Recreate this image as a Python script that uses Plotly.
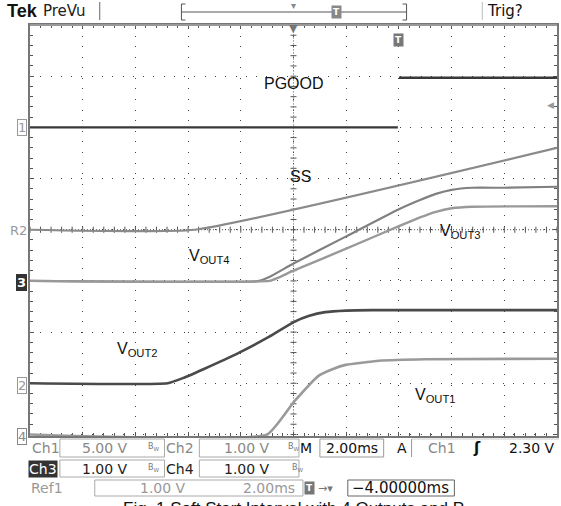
import plotly.graph_objects as go

# ---------------- data (screen divisions: time 0..10 div @ 2 ms/div, amplitude -4..4 div)
pgood_t = [0, 6.98, 6.99, 7.0, 10]
pgood_v = [2.0, 2.0, None, 2.97, 2.97]

ss_t = [0, 3.12, 10]
ss_v = [0.0, 0.0, 1.6]

vout4_t = [0, 4.35, 4.55, 5.0, 6.0, 7.0, 7.4, 7.7, 8.0, 8.4, 9.0, 10]
vout4_v = [-1.0, -1.0, -0.92, -0.66, -0.13, 0.40, 0.58, 0.70, 0.78, 0.82, 0.82, 0.84]

vout3_t = [0, 4.54, 4.7, 5.0, 6.0, 7.0, 7.4, 7.7, 8.0, 8.4, 10]
vout3_v = [-1.0, -1.0, -0.94, -0.80, -0.37, 0.07, 0.24, 0.35, 0.42, 0.45, 0.46]

vout2_t = [0, 2.61, 2.9, 3.3, 3.97, 4.54, 5.01, 5.3, 5.6, 6.0, 6.5, 10]
vout2_v = [-3.0, -3.0, -2.9, -2.72, -2.40, -2.09, -1.80, -1.68, -1.61, -1.58, -1.57, -1.57]

vout1_t = [0, 4.5, 5.01, 5.48, 5.75, 5.99, 6.62, 7.5, 10]
vout1_v = [-4.0, -4.0, -3.36, -2.85, -2.72, -2.64, -2.56, -2.53, -2.52]

labels = ["PGOOD", "SS", "V<sub>OUT4</sub>", "V<sub>OUT3</sub>", "V<sub>OUT2</sub>", "V<sub>OUT1</sub>"]
label_t = [5.01, 5.14, 3.40, 8.17, 2.04, 7.69]
label_v = [2.85, 1.04, -0.52, -0.03, -2.34, -3.23]

# ---------------- geometry helpers (pixel -> paper)
W, H = 561, 506
L, R, T, B = 30, 559, 25, 436


def px(X):
    return (X - L) / (R - L)


def py(Y):
    return (B - Y) / (B - T)


fig = go.Figure()

traces = [
    (pgood_t, pgood_v, "#383838", 2.4),
    (ss_t, ss_v, "#8a8a8a", 2.2),
    (vout4_t, vout4_v, "#808080", 2.2),
    (vout3_t, vout3_v, "#999999", 2.4),
    (vout2_t, vout2_v, "#4a4a4a", 2.6),
    (vout1_t, vout1_v, "#9a9a9a", 2.6),
]
for t, v, c, w in traces:
    fig.add_trace(go.Scatter(x=t, y=v, mode="lines", line=dict(color=c, width=w, shape="spline", smoothing=0.4),
                             connectgaps=False, showlegend=False, hoverinfo="skip"))

shapes = []
# center cross lines
shapes.append(dict(type="line", xref="x", yref="y", x0=0, x1=10, y0=0, y1=0, layer="below",
                   line=dict(color="#555", width=1, dash="1px,2px")))
shapes.append(dict(type="line", xref="x", yref="y", x0=5, x1=5, y0=-4, y1=4, layer="below",
                   line=dict(color="#555", width=1, dash="1px,2px")))
for i in range(51):
    xx = i * 0.2
    shapes.append(dict(type="line", xref="x", yref="y", x0=xx, x1=xx, y0=-0.06, y1=0.06,
                       layer="below", line=dict(color="#555", width=1)))
for j in range(41):
    yy = -4 + j * 0.2
    shapes.append(dict(type="line", xref="x", yref="y", x0=4.943, x1=5.057, y0=yy, y1=yy,
                       layer="below", line=dict(color="#555", width=1)))


def pline(X0, Y0, X1, Y1, color="#888", width=1):
    shapes.append(dict(type="line", xref="paper", yref="paper", x0=px(X0), x1=px(X1),
                       y0=py(Y0), y1=py(Y1), line=dict(color=color, width=width)))


def prect(X0, Y0, X1, Y1, color="#aaa", fill=None, width=1):
    shapes.append(dict(type="rect", xref="paper", yref="paper", x0=px(X0), x1=px(X1),
                       y0=py(Y0), y1=py(Y1), line=dict(color=color, width=width),
                       fillcolor=fill if fill else "rgba(0,0,0,0)"))


# top bar
pline(100, 2, 100, 20, "#666")
pline(182, 12, 408, 12, "#555")
pline(182, 4, 182, 20, "#555")
pline(182, 4, 186, 4, "#555")
pline(182, 20, 186, 20, "#555")
pline(408, 4, 408, 20, "#555")
pline(404, 4, 408, 4, "#555")
pline(404, 20, 408, 20, "#555")
pline(484, 2, 484, 20, "#bbb")
# top ruler line
pline(30, 25, 559, 25, "#999", 2)

# status boxes
prect(60, 439, 165, 457)
prect(200, 439, 300, 457)
prect(321, 439, 385, 457, "#999")
pline(413, 439, 413, 457, "#999")
pline(413, 439, 561, 439, "#ccc")
prect(60, 460, 165, 477)
prect(200, 460, 300, 477)
prect(95, 480, 304, 496)
prect(349, 480, 456, 496, "#666")

annotations = []
for s, t, v in zip(labels, label_t, label_v):
    annotations.append(dict(text=s, x=t, y=v, xref="x", yref="y", showarrow=False,
                            font=dict(family="Liberation Sans, Arial", size=16, color="#111")))


def ptext(X, Y, s, size=14, color="#888", anchor="left", family="DejaVu Sans", bg=None,
          border=None, bold=False, pad=0):
    d = dict(text=("<b>%s</b>" % s) if bold else s, x=px(X), y=py(Y), xref="paper", yref="paper",
             showarrow=False, xanchor=anchor, yanchor="middle",
             font=dict(family=family, size=size, color=color), borderpad=pad)
    if bg:
        d["bgcolor"] = bg
    if border:
        d["bordercolor"] = border
        d["borderwidth"] = 1
    annotations.append(d)


# top bar text
ptext(6, 11, "Tek", 18, "#111", bold=True, family="Liberation Sans")
ptext(42, 11, "PreVu", 15, "#222")
ptext(295, 5, "▾", 10, "#888", anchor="center")
ptext(338, 12, "T", 9, "white", anchor="center", bg="#888", bold=True, pad=1)
ptext(488, 11, "Trig?", 15, "#111")

# graticule markers
ptext(294.5, 29, "▼", 11, "#777", anchor="center")
ptext(400, 40, "T", 9, "white", anchor="center", bg="#777", bold=True, pad=1)
ptext(557, 105, "◀", 9, "#999", anchor="right")

# channel markers
ptext(27, 127, "1", 13, "#999", anchor="right", bg="white", border="#999", pad=0)
ptext(28, 230.5, "R2", 13, "#999", anchor="right")
ptext(27, 282, "3", 13, "white", anchor="right", bg="#333", border="#333", bold=True, pad=0)
ptext(27, 385, "2", 13, "#999", anchor="right", bg="white", border="#999", pad=0)
ptext(27, 436, "4", 13, "#888", anchor="right", bg="white", border="#888", pad=0)

# status rows
r1, r2, r3 = 448, 468.5, 488
ptext(31, r1, "Ch1", 14, "#888")
ptext(129, r1, "5.00 V", 14, "#888", anchor="right")
ptext(147, r1 - 1, "B<sub>W</sub>", 8, "#777")
ptext(166, r1, "Ch2", 14, "#888")
ptext(272, r1, "1.00 V", 14, "#888", anchor="right")
ptext(288, r1 - 1, "B<sub>W</sub>", 8, "#777")
ptext(300, r1, "M", 14, "#111")
ptext(353, r1, "2.00ms", 14, "#111", anchor="center")
ptext(397, r1, "A", 14, "#111")
ptext(429, r1, "Ch1", 14, "#888")
ptext(479, r1, "ʃ", 15, "#111", anchor="center", bold=True)
ptext(558, r1, "2.30 V", 14, "#111", anchor="right")

ptext(28, r2, "Ch3", 14, "white", bg="#333")
ptext(129, r2, "1.00 V", 14, "#222", anchor="right")
ptext(147, r2 - 1, "B<sub>W</sub>", 8, "#777")
ptext(166, r2, "Ch4", 14, "#222")
ptext(272, r2, "1.00 V", 14, "#222", anchor="right")
ptext(292, r2 - 1, "B<sub>W</sub>", 8, "#777")

ptext(30, r3, "Ref1", 14, "#999")
ptext(188, r3, "1.00 V", 14, "#999", anchor="right")
ptext(297, r3, "2.00ms", 14, "#999", anchor="right")
ptext(311, r3, "T", 9, "white", anchor="center", bg="#777", bold=True, pad=1)
ptext(318, r3, "→▾", 11, "#777")
ptext(402, r3, "−4.00000ms", 15, "#111", anchor="center")

# caption (cut at bottom, as in the reference)
annotations.append(dict(text="Fig. 1 Soft Start Interval with 4 Outputs and P", x=px(295), y=py(497),
                        xref="paper", yref="paper", showarrow=False, xanchor="center", yanchor="top",
                        font=dict(family="Liberation Sans, Arial", size=17, color="#111")))

axis_common = dict(showgrid=True, gridcolor="#444", gridwidth=1, zeroline=False,
                   showline=True, linecolor="#777", linewidth=2, mirror="ticks",
                   ticks="inside", ticklen=4, tickcolor="#555", tickwidth=1,
                   showticklabels=False, fixedrange=True, layer="below traces")

fig.update_layout(
    width=W, height=H, autosize=False,
    margin=dict(l=L, r=W - R, t=T, b=H - B, pad=0),
    paper_bgcolor="white", plot_bgcolor="white",
    xaxis=dict(range=[0, 10], dtick=1, tick0=0, griddash="1px,9.58px",
               minor=dict(dtick=0.2, ticks="inside", ticklen=3, tickcolor="#555", showgrid=False),
               **axis_common),
    yaxis=dict(range=[-4.03, 4], dtick=1, tick0=0, griddash="1px,9.28px",
               minor=dict(dtick=0.2, ticks="inside", ticklen=3, tickcolor="#555", showgrid=False),
               **axis_common),
    shapes=shapes,
    annotations=annotations,
    showlegend=False,
)

fig.write_html("out.html", config={"staticPlot": True},
               post_script="document.body.style.margin='0';document.body.style.padding='0';")
